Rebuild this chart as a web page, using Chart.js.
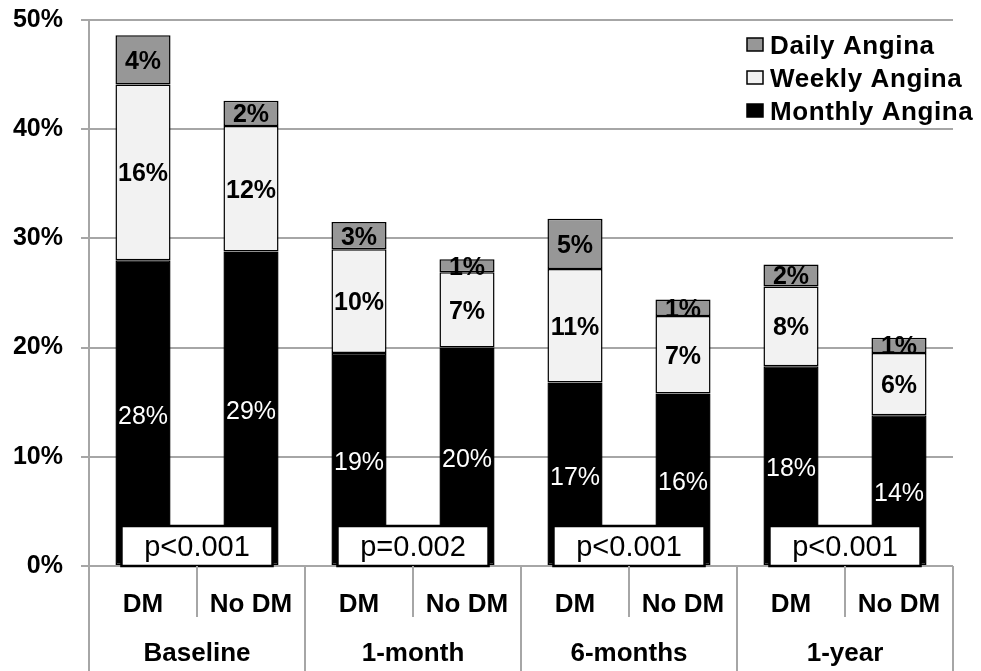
<!DOCTYPE html>
<html>
<head>
<meta charset="utf-8">
<script src="https://cdn.jsdelivr.net/npm/chart.js@4.4.1/dist/chart.umd.min.js"></script>
<style>
  body { margin: 0; background: #fff; }
  #wrap { width: 981px; height: 671px; }
</style>
</head>
<body>
<div id="wrap"><canvas id="anginaChart"></canvas></div>
<script>
// categories
const groups = ['Baseline', '1-month', '6-months', '1-year'];
const cohorts = ['DM', 'No DM', 'DM', 'No DM', 'DM', 'No DM', 'DM', 'No DM'];

// bar heights (% of patients)
const monthly = [28.0, 28.8, 19.5, 20.0, 16.8, 15.8, 18.3, 13.8];
const weekly = [16.1, 11.5, 9.5, 6.9, 10.4, 7.1, 7.3, 5.7];
const daily = [4.5, 2.3, 2.5, 1.2, 4.6, 1.5, 2.0, 1.4];

// printed labels (rounded)
const monthlyPct = [28, 29, 19, 20, 17, 16, 18, 14];
const weeklyPct = [16, 12, 10, 7, 11, 7, 8, 6];
const dailyPct = [4, 2, 3, 1, 5, 1, 2, 1];

const pValues = ['p<0.001', 'p=0.002', 'p<0.001', 'p<0.001'];

// y axis
const yMin = 0;
const yMax = 50;
const yStep = 10;

const FONT = '"Liberation Sans", Arial, Helvetica, sans-serif';
const gridColor = '#a6a6a6';

const extrasPlugin = {
  id: 'extras',
  afterDatasetsDraw(chart) {
    const ctx = chart.ctx;
    const base = chart.scales.y.getPixelForValue(0);
    const bars = chart.getDatasetMeta(0).data;
    ctx.save();
    ctx.textAlign = 'center';
    ctx.textBaseline = 'middle';

    // p-value boxes sitting on the axis
    pValues.forEach((p, g) => {
      const a = bars[g * 2];
      const b = bars[g * 2 + 1];
      const left = a.x - a.width / 2 + 6;
      const right = b.x + b.width / 2 - 6;
      ctx.fillStyle = '#fff';
      ctx.fillRect(left, base - 40, right - left, 40);
      ctx.strokeStyle = '#000';
      ctx.lineWidth = 2.5;
      ctx.strokeRect(left, base - 40, right - left, 40);
      ctx.fillStyle = '#000';
      ctx.font = '29px ' + FONT;
      ctx.fillText(p, (left + right) / 2, base - 18);
    });

    // segment labels
    const pct = [monthlyPct, weeklyPct, dailyPct];
    chart.data.datasets.forEach((ds, i) => {
      chart.getDatasetMeta(i).data.forEach((bar, j) => {
        const cy = (bar.y + bar.base) / 2;
        ctx.fillStyle = i === 0 ? '#fff' : '#000';
        ctx.font = (i === 0 ? '' : 'bold ') + '25px ' + FONT;
        ctx.fillText(pct[i][j] + '%', bar.x, cy + (i === 0 ? 4 : 2));
      });
    });
    ctx.restore();
  },
  afterDraw(chart) {
    const ctx = chart.ctx;
    const x = chart.scales.x;
    const base = chart.scales.y.getPixelForValue(0);
    const catW = x.getPixelForValue(1) - x.getPixelForValue(0);
    ctx.save();

    // separators under the axis
    ctx.strokeStyle = gridColor;
    ctx.lineWidth = 2;
    for (let i = 0; i <= cohorts.length; i++) {
      const bx = Math.round(x.getPixelForValue(0) - catW / 2 + i * catW);
      const end = i % 2 === 0 ? chart.height : base + 51;
      ctx.beginPath();
      ctx.moveTo(bx, base);
      ctx.lineTo(bx, end);
      ctx.stroke();
    }

    // group labels
    ctx.fillStyle = '#000';
    ctx.font = 'bold 26px ' + FONT;
    ctx.textAlign = 'center';
    ctx.textBaseline = 'middle';
    groups.forEach((g, i) => {
      const cx = (x.getPixelForValue(i * 2) + x.getPixelForValue(i * 2 + 1)) / 2;
      ctx.fillText(g, cx, base + 88);
    });

    // legend, top right
    const items = chart.data.datasets.slice().reverse();
    ctx.font = 'bold 26px ' + FONT;
    ctx.letterSpacing = '0.6px';
    ctx.textAlign = 'left';
    items.forEach((ds, i) => {
      const cy = 46 + i * 33;
      ctx.fillStyle = ds.backgroundColor;
      ctx.fillRect(747, cy - 8, 16, 13);
      ctx.strokeStyle = '#000';
      ctx.lineWidth = 1.5;
      ctx.strokeRect(747, cy - 8, 16, 13);
      ctx.fillStyle = '#000';
      ctx.fillText(ds.label, 770, cy + 1);
    });
    ctx.restore();
  }
};

const ctx = document.querySelector('#anginaChart').getContext('2d');
const anginaChart = new Chart(ctx, {
  type: 'bar',
  data: {
    labels: cohorts,
    datasets: [
      { label: 'Monthly Angina', data: monthly, backgroundColor: '#000000' },
      { label: 'Weekly Angina', data: weekly, backgroundColor: '#f2f2f2' },
      { label: 'Daily Angina', data: daily, backgroundColor: '#979797' }
    ]
  },
  options: {
    responsive: true,
    maintainAspectRatio: false,
    animation: false,
    layout: { padding: { top: 20, right: 28, left: 0, bottom: 0 } },
    datasets: {
      bar: {
        categoryPercentage: 1,
        barPercentage: 0.51,
        borderColor: '#000',
        borderWidth: 1.5,
        borderSkipped: false
      }
    },
    scales: {
      x: {
        stacked: true,
        grid: { display: false },
        border: { display: false },
        ticks: {
          color: '#000',
          padding: 15,
          font: { family: FONT, size: 26, weight: 'bold' }
        },
        afterFit: (scale) => {
          scale.height = 105;
          scale.paddingLeft = 0;
          scale.paddingRight = 0;
        }
      },
      y: {
        stacked: true,
        min: yMin,
        max: yMax,
        grid: { color: gridColor, lineWidth: 2, tickLength: 8 },
        border: { color: gridColor, width: 2 },
        ticks: {
          stepSize: yStep,
          color: '#000',
          padding: 18,
          font: { family: FONT, size: 25, weight: 'bold' },
          callback: (v) => v + '%'
        },
        afterFit: (scale) => {
          scale.width = 89;
          scale.paddingTop = 0;
          scale.paddingBottom = 0;
        }
      }
    },
    plugins: {
      legend: { display: false },
      tooltip: { enabled: false }
    }
  },
  plugins: [extrasPlugin]
});
</script>
</body>
</html>
